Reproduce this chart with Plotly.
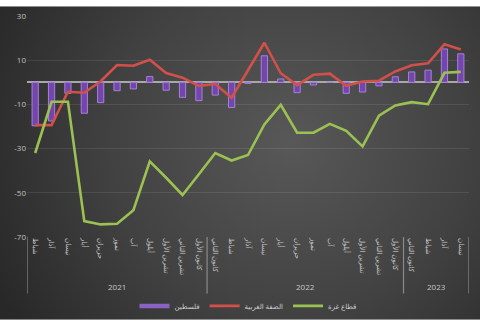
import base64
import plotly.graph_objects as go

years = ["2021"] * 11 + ["2022"] * 12 + ["2023"] * 4
months = ["شباط", "آذار", "نيسان", "أيار", "حزيران", "تموز", "آب", "أيلول",
          "تشرين الأول", "تشرين الثاني", "كانون الأول",
          "كانون الثاني", "شباط", "آذار", "نيسان", "أيار", "حزيران", "تموز", "آب",
          "أيلول", "تشرين الأول", "تشرين الثاني", "كانون الأول",
          "كانون الثاني", "شباط", "آذار", "نيسان"]

palestine = [-19.7, -17.5, -5, -14, -9.2, -3.8, -3, 2.6, -3.6, -6.8, -8.3,
             -5.8, -11.4, -0.5, 12, 1.5, -4.7, -1.2, 0, -5, -4.4, -1.6, 2.5,
             4.7, 5.5, 15.1, 12.9]
west_bank = [-19.4, -19.4, -4.3, -4.7, 0.5, 7.8, 7.5, 10.2, 4.2, 2.1, -1.6,
             -0.8, -7, 5.5, 17.9, 4.1, -1.3, 3.4, 3.9, -1.6, 0.4, 0.7, 4.9,
             7.7, 8.6, 17.2, 14.8]
gaza = [-32, -8.8, -8.8, -62.8, -64.3, -64, -57.9, -35.8, -43.2, -51, -41.6,
        -32, -35.4, -32.9, -19.1, -10.2, -22.8, -22.8, -18.8, -22, -29, -15.1, -10.5,
        -9, -9.9, 4.3, 4.7]

names = ["فلسطين", "الضفة الغربية", "قطاع غزة"]
y_ticks = [30, 10, -10, -30, -50, -70]

idx = list(range(len(months)))

W, H = 480, 322
ml, mr, mt, mb = 27, 11, 10, 85
pw, ph = W - ml - mr, H - mt - mb

svg = f'''<svg xmlns="http://www.w3.org/2000/svg" width="{W}" height="{H}" viewBox="0 0 {W} {H}" preserveAspectRatio="none">
<defs><radialGradient id="g" cx="290" cy="140" r="330" gradientUnits="userSpaceOnUse">
<stop offset="0" stop-color="#585858"/><stop offset="0.55" stop-color="#414141"/><stop offset="1" stop-color="#282828"/>
</radialGradient></defs><rect width="{W}" height="{H}" fill="url(#g)"/></svg>'''
src = "data:image/svg+xml;base64," + base64.b64encode(svg.encode()).decode()

bar_color = "#7446ad"
fig = go.Figure()
fig.add_trace(go.Bar(x=idx, y=palestine, name=names[0], width=0.38, showlegend=False,
                     legendgroup="p",
                     marker=dict(color=bar_color, line=dict(color="#a382d8", width=1))))
# legend entry for the bars drawn as a flat swatch (no data points)
fig.add_trace(go.Scatter(x=[None], y=[None], name=names[0], mode="lines", legendgroup="p",
                         line=dict(color="#8a62c4", width=4.5)))
fig.add_trace(go.Scatter(x=idx, y=west_bank, name=names[1], mode="lines",
                         line=dict(color="#d2504a", width=2.6)))
fig.add_trace(go.Scatter(x=idx, y=gaza, name=names[2], mode="lines",
                         line=dict(color="#9bc152", width=2.6)))

# year groups: dividers and labels
shapes = []
annotations = []
groups = []
for i, yv in enumerate(years):
    if not groups or groups[-1][0] != yv:
        groups.append([yv, i, i])
    else:
        groups[-1][2] = i
bounds = [g[1] - 0.5 for g in groups] + [groups[-1][2] + 0.5]
for b in bounds:
    shapes.append(dict(type="line", xref="x", yref="paper", x0=b, x1=b,
                       y0=0, y1=-58 / ph, line=dict(color="#8a8a8a", width=1.2)))
for yv, a, b in groups:
    annotations.append(dict(text=yv, xref="x", yref="paper", x=(a + b) / 2,
                            y=-51 / ph, showarrow=False, yanchor="middle",
                            font=dict(size=8, color="#c8c8c8")))

fig.update_layout(
    width=W, height=H,
    margin=dict(l=ml, r=mr, t=mt, b=mb),
    paper_bgcolor="rgba(0,0,0,0)", plot_bgcolor="rgba(0,0,0,0)",
    font=dict(family="Open Sans, DejaVu Sans, sans-serif", color="#c8c8c8", size=8),
    showlegend=True,
    legend=dict(orientation="h", x=0.5, xanchor="center", yref="container",
                y=0.05, yanchor="middle", font=dict(size=7, color="#d0d0d0"),
                itemwidth=30, tracegroupgap=0),
    shapes=shapes, annotations=annotations,
    images=[dict(source=src, xref="paper", yref="paper",
                 x=-ml / pw, y=1 + mt / ph, sizex=W / pw, sizey=H / ph,
                 xanchor="left", yanchor="top", sizing="stretch", layer="below")],
)
fig.update_yaxes(range=[-70, 30], tickvals=y_ticks, ticktext=[str(v) for v in y_ticks],
                 showgrid=True, gridcolor="rgba(255,255,255,0.09)", gridwidth=1,
                 zeroline=True, zerolinecolor="#a8a8a8", zerolinewidth=1.5,
                 showline=False, ticks="", tickfont=dict(size=8, color="#c0c0c0"))
fig.update_xaxes(range=[-0.5, len(months) - 0.5], tickvals=idx, ticktext=months,
                 tickangle=90, showline=False, zeroline=False,
                 tickfont=dict(size=7, color="#c8c8c8"), showgrid=False, ticks="")

fig.write_html("out.html")
